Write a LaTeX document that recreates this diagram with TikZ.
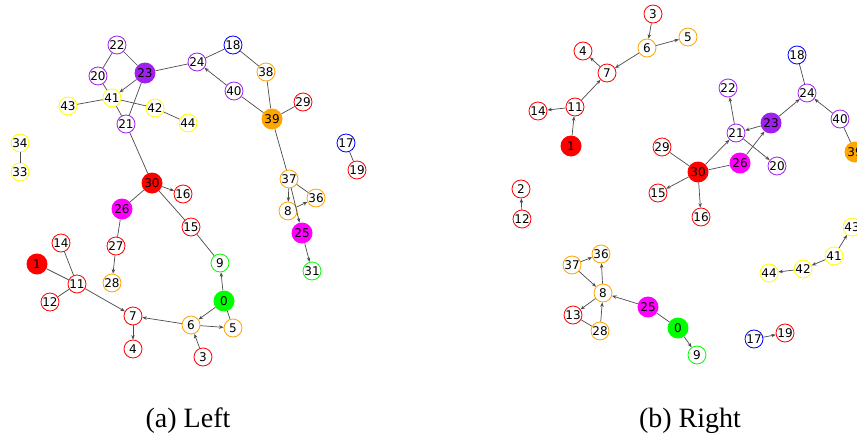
\documentclass[tikz,border=0pt]{standalone}
\usepackage{fontspec}
\setmainfont{Liberation Serif}
\newfontfamily\labelfont{DejaVu Sans}
\usetikzlibrary{arrows.meta}
\definecolor{nred}{RGB}{255,0,0}
\definecolor{norange}{RGB}{255,165,0}
\definecolor{npurple}{RGB}{160,32,240}
\definecolor{nmagenta}{RGB}{255,0,255}
\definecolor{ngreen}{RGB}{0,255,0}
\definecolor{nyellow}{RGB}{255,255,0}
\definecolor{nblue}{RGB}{0,0,255}
\definecolor{edgegray}{RGB}{75,75,75}
\tikzset{
  node-base/.style={
    circle,
    inner sep=0pt,
    font=\labelfont\fontsize{12}{12}\selectfont,
    text=black
  },
  node-open/.style={
    node-base,
    draw=#1,
    fill=white,
    line width=0.8pt,
    minimum size=18pt
  },
  node-full/.style={
    node-base,
    fill=#1,
    minimum size=21pt
  },
  edge/.style={draw=edgegray, line width=0.7pt},
  edge-arrow/.style={edge, -{Stealth[length=4.5pt,width=3.5pt]}},
  caption/.style={anchor=base, font=\fontsize{28}{28}\selectfont}
}

\begin{document}
\begin{tikzpicture}[x=1pt,y=-1pt]
  \useasboundingbox (0,0) rectangle (857,439);
  % (a) Left
  \foreach \n/\x/\y in {3/203/357,4/133/349,7/133/316,11/77/284,12/50/302,14/61/243,
      15/191/227,16/183/194,19/357/170,27/116/246,29/303/102}
    \node[node-open=nred] (l\n) at (\x,\y) {\n};
  \foreach \n/\x/\y in {5/233/328,6/191/325,8/288/211,28/112/283,36/316/198,37/289/179,38/266/72}
    \node[node-open=norange] (l\n) at (\x,\y) {\n};
  \foreach \n/\x/\y in {20/98/76,21/126/124,22/117/45,24/197/62,40/234/91}
    \node[node-open=npurple] (l\n) at (\x,\y) {\n};
  \foreach \n/\x/\y in {33/20/172,34/20/143,41/112/98,42/155/108,43/68/106,44/188/123}
    \node[node-open=nyellow] (l\n) at (\x,\y) {\n};
  \foreach \n/\x/\y in {9/220/263,31/312/271}
    \node[node-open=ngreen] (l\n) at (\x,\y) {\n};
  \foreach \n/\x/\y in {17/346/143,18/233/45}
    \node[node-open=nblue] (l\n) at (\x,\y) {\n};
  \node[node-full=ngreen] (l0) at (224,301) {0};
  \node[node-full=nred] (l1) at (37,264) {1};
  \node[node-full=nred] (l30) at (152,183) {30};
  \node[node-full=npurple] (l23) at (145,73) {23};
  \node[node-full=norange] (l39) at (272,119) {39};
  \node[node-full=nmagenta] (l25) at (302,233) {25};
  \node[node-full=nmagenta] (l26) at (122,209) {26};
  \foreach \a/\b in {22/20,22/23,23/24,23/21,20/41,41/21,43/41,41/42,42/44,21/30,
      34/33,24/18,18/38,40/39,38/39,39/29,17/19,37/36,30/26,30/15,26/27,15/9,
      14/11,1/11,11/12,0/5,39/37}
    \draw[edge] (l\a) -- (l\b);
  \foreach \a/\b in {23/41,40/24,30/16,27/28,11/7,6/7,7/4,3/6,0/6,6/5,0/9,
      8/36,37/8,37/25,25/31}
    \draw[edge-arrow] (l\a) -- (l\b);
  \node[caption] (capl) at (188,427) {(a) Left};

  % (b) Right
  \foreach \n/\x/\y in {2/521/189,3/653/14,4/583/51,7/607/73,11/575/107,12/522/219,
      13/573/315,14/538/111,15/658/193,16/701/217,19/785/333,29/662/147}
    \node[node-open=nred] (r\n) at (\x,\y) {\n};
  \foreach \n/\x/\y in {5/688/37,6/647/48,8/603/293,28/600/331,36/601/254,37/572/265}
    \node[node-open=norange] (r\n) at (\x,\y) {\n};
  \foreach \n/\x/\y in {20/777/166,21/736/133,22/728/88,24/807/93,40/840/119}
    \node[node-open=npurple] (r\n) at (\x,\y) {\n};
  \foreach \n/\x/\y in {41/834/256,42/803/269,43/852/227,44/769/273}
    \node[node-open=nyellow] (r\n) at (\x,\y) {\n};
  \node[node-open=ngreen] (r9) at (697,355) {9};
  \foreach \n/\x/\y in {17/754/339,18/797/55}
    \node[node-open=nblue] (r\n) at (\x,\y) {\n};
  \node[node-full=ngreen] (r0) at (678,328) {0};
  \node[node-full=nred] (r1) at (571,146) {1};
  \node[node-full=nred] (r30) at (698,172) {30};
  \node[node-full=npurple] (r23) at (771,123) {23};
  \node[node-full=norange] (r39) at (855,152) {39};
  \node[node-full=nmagenta] (r25) at (648,307) {25};
  \node[node-full=nmagenta] (r26) at (740,163) {26};
  \foreach \a/\b in {29/30,30/26,39/40,13/28,25/0,18/24}
    \draw[edge] (r\a) -- (r\b);
  \foreach \a/\b in {3/6,6/5,6/7,7/4,11/7,11/14,1/11,12/2,30/15,30/16,37/36,37/8,
      8/36,25/8,8/13,28/8,0/9,41/43,41/42,42/44,17/19,23/24,40/24,21/22,23/21,
      21/20,30/21,26/23}
    \draw[edge-arrow] (r\a) -- (r\b);
  \node[caption] (capr) at (690,427) {(b) Right};
\end{tikzpicture}
\end{document}
